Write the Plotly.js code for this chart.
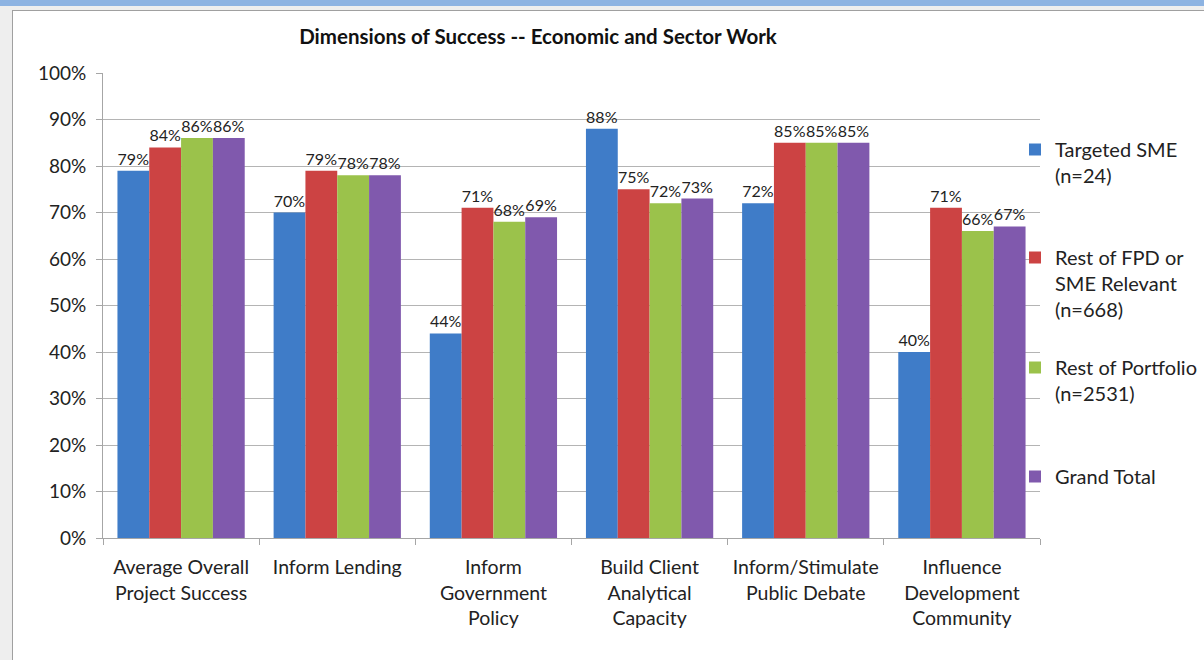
<!DOCTYPE html>
<html>
<head>
<meta charset="utf-8">
<script src="https://cdn.plot.ly/plotly-3.0.1.min.js"></script>
<style>
  html, body { margin: 0; padding: 0; width: 1204px; height: 660px; overflow: hidden; background: #eeeeee; }
  #strip { position: absolute; left: 0; top: 0; width: 1204px; height: 6px; background: #8db3e2; }
  #box { position: absolute; left: 12px; top: 10px; width: 1200px; height: 660px; background: #ffffff; border: 1px solid #a0a0a0; box-sizing: border-box; }
  #chart { position: absolute; left: 0; top: 0; width: 1204px; height: 660px; }
</style>
</head>
<body>
<div id="strip"></div>
<div id="box"></div>
<div id="chart"></div>
<script>
const categories = [
  "Average Overall<br>Project Success",
  "Inform Lending",
  "Inform<br>Government<br>Policy",
  "Build Client<br>Analytical<br>Capacity",
  "Inform/Stimulate<br>Public Debate",
  "Influence<br>Development<br>Community"
];
const seriesNames = [
  "Targeted SME<br>(n=24)",
  "Rest of FPD or<br>SME Relevant<br>(n=668)",
  "Rest of Portfolio<br>(n=2531)",
  "Grand Total"
];
const targetedSME   = [79, 70, 44, 88, 72, 40];
const restFPD       = [84, 79, 71, 75, 85, 71];
const restPortfolio = [86, 78, 68, 72, 85, 66];
const grandTotal    = [86, 78, 69, 73, 85, 67];
const yTicks = [0, 10, 20, 30, 40, 50, 60, 70, 80, 90, 100];

const colors = ["#3f7cc8", "#cc4343", "#9bc24b", "#8059ad"];
const values = [targetedSME, restFPD, restPortfolio, grandTotal];
const legendIds = ["legend", "legend2", "legend3", "legend4"];
const FONT = "Lato, 'Open Sans', sans-serif";

const traces = values.map((v, i) => ({
  type: "bar",
  x: categories,
  y: v,
  name: seriesNames[i],
  legend: legendIds[i],
  marker: { color: colors[i], line: { width: 0 } },
  text: v.map(d => d + "%"),
  textposition: "outside",
  constraintext: "none",
  cliponaxis: false,
  textfont: { family: FONT, size: 16, color: "#222222" },
  hoverinfo: "x+y"
}));

// plot area: x pixel 103..1040, y pixel 73..538
const PL = 103, PR = 1040, PT = 73, PB = 538;
function px(X) { return (X - PL) / (PR - PL); }
function py(Y) { return (PB - Y) / (PB - PT); }
const legendBase = {
  x: px(1015), xanchor: "left", yanchor: "top",
  bgcolor: "rgba(0,0,0,0)", borderwidth: 0,
  font: { family: FONT, size: 20, color: "#222222" },
  valign: "top", itemwidth: 30
};

const layout = {
  width: 1204, height: 660,
  margin: { l: PL, r: 1204 - PR, t: PT, b: 660 - PB, pad: 0, autoexpand: false },
  paper_bgcolor: "rgba(0,0,0,0)",
  plot_bgcolor: "rgba(0,0,0,0)",
  font: { family: FONT, size: 15, color: "#222222" },
  title: {
    text: "<b>Dimensions of Success -- Economic and Sector Work</b>",
    font: { family: FONT, size: 20.5, color: "#111111" },
    x: px(538), xanchor: "center", xref: "paper",
    y: 0.944, yanchor: "middle", yref: "container"
  },
  barmode: "group",
  bargap: 0.185,
  bargroupgap: 0,
  showlegend: true,
  legend:  Object.assign({}, legendBase, { y: py(130) }),
  legend2: Object.assign({}, legendBase, { y: py(238) }),
  legend3: Object.assign({}, legendBase, { y: py(348) }),
  legend4: Object.assign({}, legendBase, { y: py(457) }),
  xaxis: {
    type: "category",
    showline: true, linecolor: "#a6a6a6", linewidth: 1,
    ticks: "outside", tickson: "boundaries", ticklen: 6, tickcolor: "#a6a6a6",
    ticklabelstandoff: 12, tickangle: 0,
    tickfont: { family: FONT, size: 19.5, color: "#222222" },
    showgrid: false, zeroline: false, automargin: false
  },
  yaxis: {
    range: [0, 100],
    tickvals: yTicks,
    ticktext: yTicks.map(t => t + "%"),
    showline: true, linecolor: "#a6a6a6", linewidth: 1,
    ticks: "outside", ticklen: 6, tickcolor: "#a6a6a6",
    ticklabelstandoff: 6,
    tickfont: { family: FONT, size: 19, color: "#222222" },
    showgrid: true, gridcolor: "#b4b4b4", gridwidth: 1,
    zeroline: false, automargin: false
  }
};

Plotly.newPlot("chart", traces, layout, { displayModeBar: false, responsive: false });
</script>
</body>
</html>
